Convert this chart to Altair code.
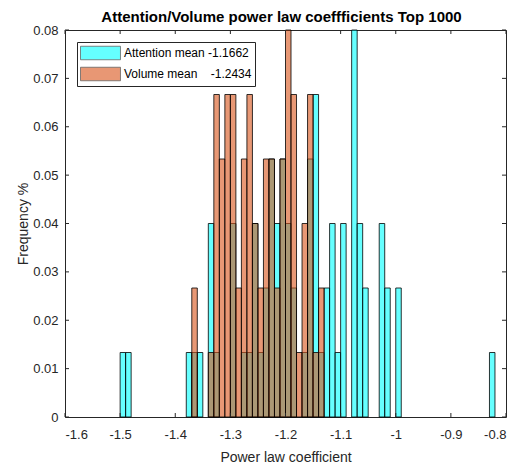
import altair as alt
import pandas as pd

# ---- data (bin left edges, counts per bin) ----
x_ticks = [-1.6, -1.5, -1.4, -1.3, -1.2, -1.1, -1.0, -0.9, -0.8]
y_ticks = [0, 0.01, 0.02, 0.03, 0.04, 0.05, 0.06, 0.07, 0.08]
bin_width = 0.01
n_samples = 75

att_bins = [-1.50, -1.49, -1.38, -1.37, -1.36, -1.34, -1.33, -1.30, -1.28, -1.27,
            -1.26, -1.25, -1.24, -1.23, -1.22, -1.21, -1.20, -1.19, -1.17, -1.16,
            -1.15, -1.14, -1.13, -1.12, -1.11, -1.10, -1.08, -1.07, -1.06, -1.03,
            -1.02, -1.00, -0.83]
att_counts = [1, 1, 1, 1, 1, 3, 1, 3, 1, 1,
              3, 1, 2, 4, 3, 4, 3, 2, 1, 4,
              5, 1, 2, 3, 1, 3, 6, 3, 2, 3,
              2, 2, 1]

vol_bins = [-1.37, -1.34, -1.33, -1.32, -1.31, -1.30, -1.29, -1.28, -1.27, -1.26,
            -1.25, -1.24, -1.23, -1.22, -1.21, -1.20, -1.19, -1.18, -1.17, -1.16,
            -1.15, -1.14]
vol_counts = [2, 1, 5, 4, 5, 5, 2, 4, 5, 3,
              2, 4, 4, 2, 4, 6, 5, 1, 3, 5,
              1, 2]

series_names = ["Attention mean -1.1662", "Volume mean\u00a0\u00a0\u00a0\u00a0-1.2434"]
series_colors = ["#00FFFF", "#D95319"]

rows = []
for name, bins, counts in [(series_names[0], att_bins, att_counts),
                           (series_names[1], vol_bins, vol_counts)]:
    for b, c in zip(bins, counts):
        rows.append({"series": name, "x0": b, "x1": round(b + bin_width, 2),
                     "freq": c / n_samples})
df = pd.DataFrame(rows)

W, H = 441, 387
FONT = "Liberation Sans"
AX = "#262626"

xscale = alt.Scale(domain=[-1.6, -0.8], nice=False, zero=False)
yscale = alt.Scale(domain=[0, 0.08], nice=False, zero=True)

x_axis = alt.Axis(values=x_ticks, ticks=False, domain=False, grid=False,
                  labelExpr="toString(datum.value)", labelPadding=11,
                  labelFontSize=13, labelColor=AX, labelFont=FONT,
                  title="Power law coefficient", titleFontSize=14,
                  titleFontWeight="normal", titleColor=AX, titleFont=FONT,
                  titlePadding=9)
y_axis = alt.Axis(values=y_ticks, ticks=False, domain=False, grid=False,
                  labelExpr="toString(datum.value)", labelPadding=7,
                  labelFontSize=13, labelColor=AX, labelFont=FONT,
                  title="Frequency %", titleFontSize=14,
                  titleFontWeight="normal", titleColor=AX, titleFont=FONT,
                  titlePadding=2)

bars = alt.Chart(df).mark_rect(
    stroke="black", strokeWidth=0.8, fillOpacity=0.6, strokeOpacity=1
).encode(
    x=alt.X("x0:Q", scale=xscale, axis=x_axis),
    x2="x1:Q",
    y=alt.Y("freq:Q", scale=yscale, axis=y_axis),
    y2=alt.datum(0),
    color=alt.Color("series:N",
                    scale=alt.Scale(domain=series_names, range=series_colors),
                    legend=alt.Legend(title=None, orient="none", legendX=12, legendY=12,
                                      symbolType="M-1,-0.9H4.33V0.9H-1Z", symbolSize=225,
                                      symbolOpacity=0.6, symbolStrokeColor="black",
                                      symbolStrokeWidth=0.8, labelFontSize=12,
                                      labelFont=FONT, labelColor="black",
                                      labelOffset=28, padding=3, rowPadding=3,
                                      labelLimit=300,
                                      strokeColor=AX, fillColor="white")),
)

xt = pd.DataFrame({"t": x_ticks})
yt = pd.DataFrame({"t": y_ticks})
tick_style = dict(color=AX, strokeWidth=1)

x_bottom = alt.Chart(xt).mark_rule(**tick_style).encode(
    x=alt.X("t:Q", scale=xscale, axis=x_axis), y=alt.value(H), y2=alt.value(H - 4))
x_top = alt.Chart(xt).mark_rule(**tick_style).encode(
    x=alt.X("t:Q", scale=xscale, axis=x_axis), y=alt.value(0), y2=alt.value(4))
y_left = alt.Chart(yt).mark_rule(**tick_style).encode(
    y=alt.Y("t:Q", scale=yscale, axis=y_axis), x=alt.value(0), x2=alt.value(4))
y_right = alt.Chart(yt).mark_rule(**tick_style).encode(
    y=alt.Y("t:Q", scale=yscale, axis=y_axis), x=alt.value(W - 4), x2=alt.value(W))

chart = alt.layer(bars, x_bottom, x_top, y_left, y_right).properties(
    width=W, height=H,
    title=alt.TitleParams("Attention/Volume power law coeffficients Top 1000",
                          fontSize=15, fontWeight="bold", font=FONT, color="black",
                          anchor="middle", offset=8, dy=9, dx=-4),
    padding={"left": 65, "top": 30, "right": 20, "bottom": 52},
    autosize="none",
    background="white",
).configure_view(stroke=AX, strokeWidth=1)

chart.save("out.html", embed_options={"renderer": "svg", "actions": False})
